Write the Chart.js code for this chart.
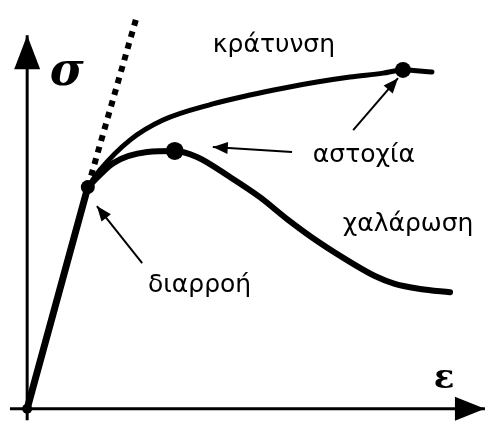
<!DOCTYPE html>
<html>
<head>
<meta charset="utf-8">
<script src="https://cdn.jsdelivr.net/npm/chart.js@4/dist/chart.umd.min.js"></script>
<style>
    html, body { margin: 0; padding: 0; background: #fff; }
    canvas { display: block; }
</style>
</head>
<body>
<canvas id="chart" width="489" height="423"></canvas>
<script>
// strain (ε) and stress (σ), arbitrary units
const elasticEps = [0, 13.4]
const elasticSig = [0, 61.8]

const offsetEps = [13.4, 24.3]
const offsetSig = [61.8, 109.8]

const hardeningEps = [13.4, 16.1, 22.7, 30.0, 41.0, 49.2, 56.5, 64.0, 71.3, 78.6, 83.0, 89.4]
const hardeningSig = [61.8, 66.6, 74.9, 80.5, 85.0, 87.5, 89.4, 91.1, 92.5, 93.6, 94.5, 93.9]

const softeningEps = [13.4, 19.0, 26.5, 32.6, 37.5, 44.8, 51.4, 57.4, 64.7, 72.0, 76.8, 81.2, 86.8, 93.4]
const softeningSig = [61.8, 68.5, 71.6, 71.9, 70.2, 64.6, 59.0, 52.9, 46.2, 40.4, 37.0, 34.8, 33.4, 32.5]

// marked points: origin, yield, peak of softening, failure on hardening
const markEps = [0, 13.4, 32.6, 83.0]
const markSig = [0, 61.8, 71.9, 94.5]

// axes
const axisXEps = [-3.8, 101.1]
const axisXSig = [0, 0]
const axisYEps = [0, 0]
const axisYSig = [-3.2, 104.2]

// pointer arrows: [tail, tip]
const arrowEps = [[58.5, 41.0], [72.0, 81.9], [25.4, 15.4]]
const arrowSig = [[71.6, 73.0], [77.7, 92.2], [40.6, 56.5]]

// labels
const labelText = ['κράτυνση', 'αστοχία', 'χαλάρωση', 'διαρροή']
const labelEps = [41.0, 63.1, 69.7, 26.7]
const labelSig = [99.5, 68.8, 49.6, 32.5]

const axisLabelText = ['σ', 'ε']
const axisLabelEps = [5.0, 89.8]
const axisLabelSig = [90.3, 5.8]


function zip(xs, ys) {
    return xs.map((x, i) => ({x: x, y: ys[i]}))
}

function lineSet(xs, ys, width, extra) {
    return Object.assign({
        data: zip(xs, ys),
        showLine: true,
        borderColor: '#000',
        borderWidth: width,
        pointRadius: 0,
        fill: false,
        clip: false,
        borderCapStyle: 'round',
        borderJoinStyle: 'round',
    }, extra || {})
}

const datasets = [
    lineSet(axisXEps, axisXSig, 3, {borderCapStyle: 'butt'}),
    lineSet(axisYEps, axisYSig, 3, {borderCapStyle: 'butt'}),
    lineSet(elasticEps, elasticSig, 7),
    lineSet(offsetEps, offsetSig, 6, {borderDash: [6, 6], borderCapStyle: 'butt'}),
    lineSet(hardeningEps, hardeningSig, 5, {cubicInterpolationMode: 'monotone'}),
    lineSet(softeningEps, softeningSig, 6, {cubicInterpolationMode: 'monotone'}),
]
arrowEps.forEach((xs, i) => datasets.push(lineSet(xs, arrowSig[i], 2, {borderCapStyle: 'butt'})))
datasets.push({
    data: zip(markEps, markSig),
    showLine: false,
    pointRadius: [5, 7, 9, 8],
    pointBackgroundColor: '#000',
    pointBorderWidth: 0,
    clip: false,
})


function arrowHead(ctx, x0, y0, x1, y1, len, half) {
    const a = Math.atan2(y1 - y0, x1 - x0)
    ctx.beginPath()
    ctx.moveTo(x1, y1)
    ctx.lineTo(x1 - len * Math.cos(a) + half * Math.sin(a), y1 - len * Math.sin(a) - half * Math.cos(a))
    ctx.lineTo(x1 - len * Math.cos(a) - half * Math.sin(a), y1 - len * Math.sin(a) + half * Math.cos(a))
    ctx.closePath()
    ctx.fill()
}

const sketchPlugin = {
    id: 'sketch',
    afterDatasetsDraw(chart) {
        const {ctx, scales: {x, y}} = chart
        ctx.save()
        ctx.fillStyle = '#000'

        // axis arrowheads
        arrowHead(ctx, x.getPixelForValue(axisXEps[0]), y.getPixelForValue(axisXSig[0]),
            x.getPixelForValue(axisXEps[1]), y.getPixelForValue(axisXSig[1]), 30, 12)
        arrowHead(ctx, x.getPixelForValue(axisYEps[0]), y.getPixelForValue(axisYSig[0]),
            x.getPixelForValue(axisYEps[1]), y.getPixelForValue(axisYSig[1]), 34, 13)

        // pointer arrowheads
        arrowEps.forEach((xs, i) => {
            arrowHead(ctx, x.getPixelForValue(xs[0]), y.getPixelForValue(arrowSig[i][0]),
                x.getPixelForValue(xs[1]), y.getPixelForValue(arrowSig[i][1]), 15, 6)
        })

        ctx.textBaseline = 'alphabetic'
        ctx.textAlign = 'left'
        ctx.font = '25px "DejaVu Sans", "Noto Sans", sans-serif'
        labelText.forEach((t, i) => {
            ctx.fillText(t, x.getPixelForValue(labelEps[i]), y.getPixelForValue(labelSig[i]))
        })

        ctx.font = 'bold italic 46px "DejaVu Serif", serif'
        ctx.fillText(axisLabelText[0], x.getPixelForValue(axisLabelEps[0]), y.getPixelForValue(axisLabelSig[0]))
        ctx.font = 'bold 34px "DejaVu Serif", serif'
        ctx.fillText(axisLabelText[1], x.getPixelForValue(axisLabelEps[1]), y.getPixelForValue(axisLabelSig[1]))
        ctx.restore()
    }
}


new Chart(document.getElementById('chart'), {
    type: 'scatter',
    data: {datasets: datasets},
    options: {
        responsive: false,
        animation: false,
        devicePixelRatio: 1,
        layout: {padding: 0, autoPadding: false},
        events: [],
        scales: {
            x: {type: 'linear', display: false, min: -6, max: 102},
            y: {type: 'linear', display: false, min: -4, max: 114},
        },
        plugins: {
            legend: {display: false},
            tooltip: {enabled: false},
        },
    },
    plugins: [sketchPlugin],
})
</script>
</body>
</html>
